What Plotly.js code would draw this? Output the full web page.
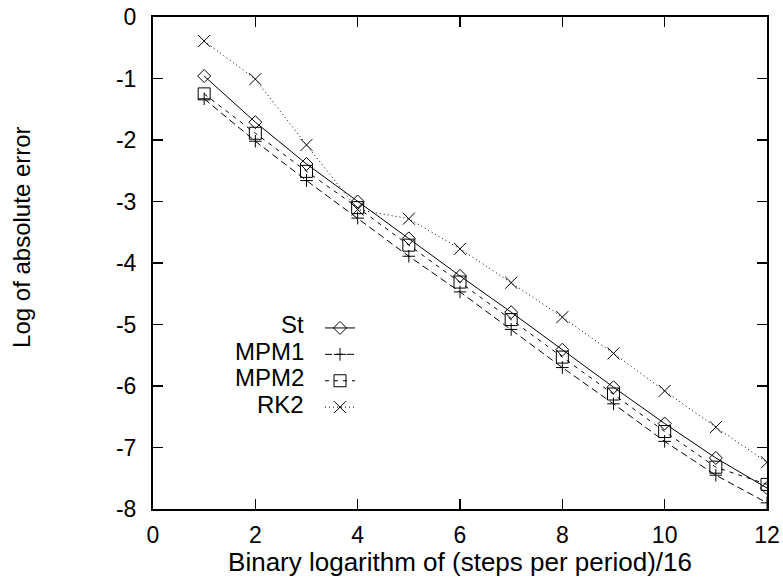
<!DOCTYPE html>
<html>
<head>
<meta charset="utf-8">
<script src="https://cdn.plot.ly/plotly-3.0.1.min.js"></script>
<style>
html,body{margin:0;padding:0;background:#fff;}
#chart{width:783px;height:577px;}
</style>
</head>
<body>
<div id="chart"></div>
<script>
// Data
var steps = [1, 2, 3, 4, 5, 6, 7, 8, 9, 10, 11, 12];
var seriesNames = ['St', 'MPM1', 'MPM2', 'RK2'];
var stErr   = [-0.96, -1.71, -2.39, -3.00, -3.60, -4.21, -4.80, -5.41, -6.02, -6.61, -7.17, -7.66];
var mpm1Err = [-1.33, -2.02, -2.66, -3.27, -3.89, -4.47, -5.08, -5.70, -6.29, -6.90, -7.45, -7.90];
var mpm2Err = [-1.25, -1.89, -2.51, -3.10, -3.71, -4.31, -4.92, -5.53, -6.13, -6.74, -7.32, -7.60];
var rk2Err  = [-0.39, -1.01, -2.08, -3.13, -3.28, -3.77, -4.32, -4.88, -5.47, -6.08, -6.67, -7.24];
var xTicks = [0, 2, 4, 6, 8, 10, 12];
var yTicks = [0, -1, -2, -3, -4, -5, -6, -7, -8];
var xTitle = 'Binary logarithm of (steps per period)/16';
var yTitle = 'Log of absolute error';

var FONT = 'Liberation Sans, Arial, Helvetica, sans-serif';
var values = [stErr, mpm1Err, mpm2Err, rk2Err];
var styles = [
  {dash: 'solid', symbol: 'diamond-open', size: 10},
  {dash: '7px,4px', symbol: 'cross-thin-open', size: 9},
  {dash: '4px,5px', symbol: 'square-open', size: 12},
  {dash: '1px,3px', symbol: 'x-thin-open', size: 12}
];

var traces = values.map(function (v, i) {
  return {
    x: steps, y: v, type: 'scatter', mode: 'lines+markers',
    name: '', legendgroup: 'g' + i,
    line: {color: '#000', width: 1, dash: styles[i].dash},
    marker: {symbol: styles[i].symbol, size: styles[i].size, color: '#000',
             line: {color: '#000', width: 1}},
    hoverinfo: 'x+y'
  };
});

var legX = 0.272, legTextX = 0.249;
var rowY = [0.3746, 0.3205, 0.2664, 0.2122];
var annotations = seriesNames.map(function (n, i) {
  return {
    text: n, xref: 'paper', yref: 'paper', x: legTextX, y: rowY[i],
    xanchor: 'right', yanchor: 'middle', showarrow: false,
    font: {family: FONT, size: 24, color: '#000'}
  };
});
annotations.push({
  text: yTitle, xref: 'paper', yref: 'paper', x: 0, xshift: -131, y: 0.551,
  xanchor: 'center', yanchor: 'middle', textangle: -90, showarrow: false,
  font: {family: FONT, size: 24, color: '#000'}
});

var axisCommon = {
  showgrid: false, zeroline: false, showline: true, linecolor: '#000', linewidth: 2,
  mirror: 'ticks', ticks: 'inside', ticklen: 10, tickwidth: 1.5, tickcolor: '#000',
  tickfont: {family: FONT, size: 23, color: '#000'}
};

var layout = {
  width: 783, height: 577,
  margin: {l: 153, r: 16, t: 17, b: 68},
  paper_bgcolor: '#fff', plot_bgcolor: '#fff',
  font: {family: FONT, color: '#000'},
  showlegend: true,
  legend: {x: legX, y: 0.405, xanchor: 'left', yanchor: 'top', bgcolor: 'rgba(0,0,0,0)',
           borderwidth: 0, font: {size: 18, family: FONT}, traceorder: 'grouped', tracegroupgap: 0},
  xaxis: Object.assign({}, axisCommon, {
    range: [0, 12], tickmode: 'array', tickvals: xTicks, ticktext: xTicks.map(String),
    ticklabelstandoff: 4,
    title: {text: xTitle, font: {family: FONT, size: 26, color: '#000'}, standoff: 3}
  }),
  yaxis: Object.assign({}, axisCommon, {
    range: [-8, 0], tickmode: 'array', tickvals: yTicks, ticktext: yTicks.map(String),
    ticklabelstandoff: 10
  }),
  annotations: annotations
};

Plotly.newPlot('chart', traces, layout, {displayModeBar: false, staticPlot: true});
</script>
</body>
</html>
